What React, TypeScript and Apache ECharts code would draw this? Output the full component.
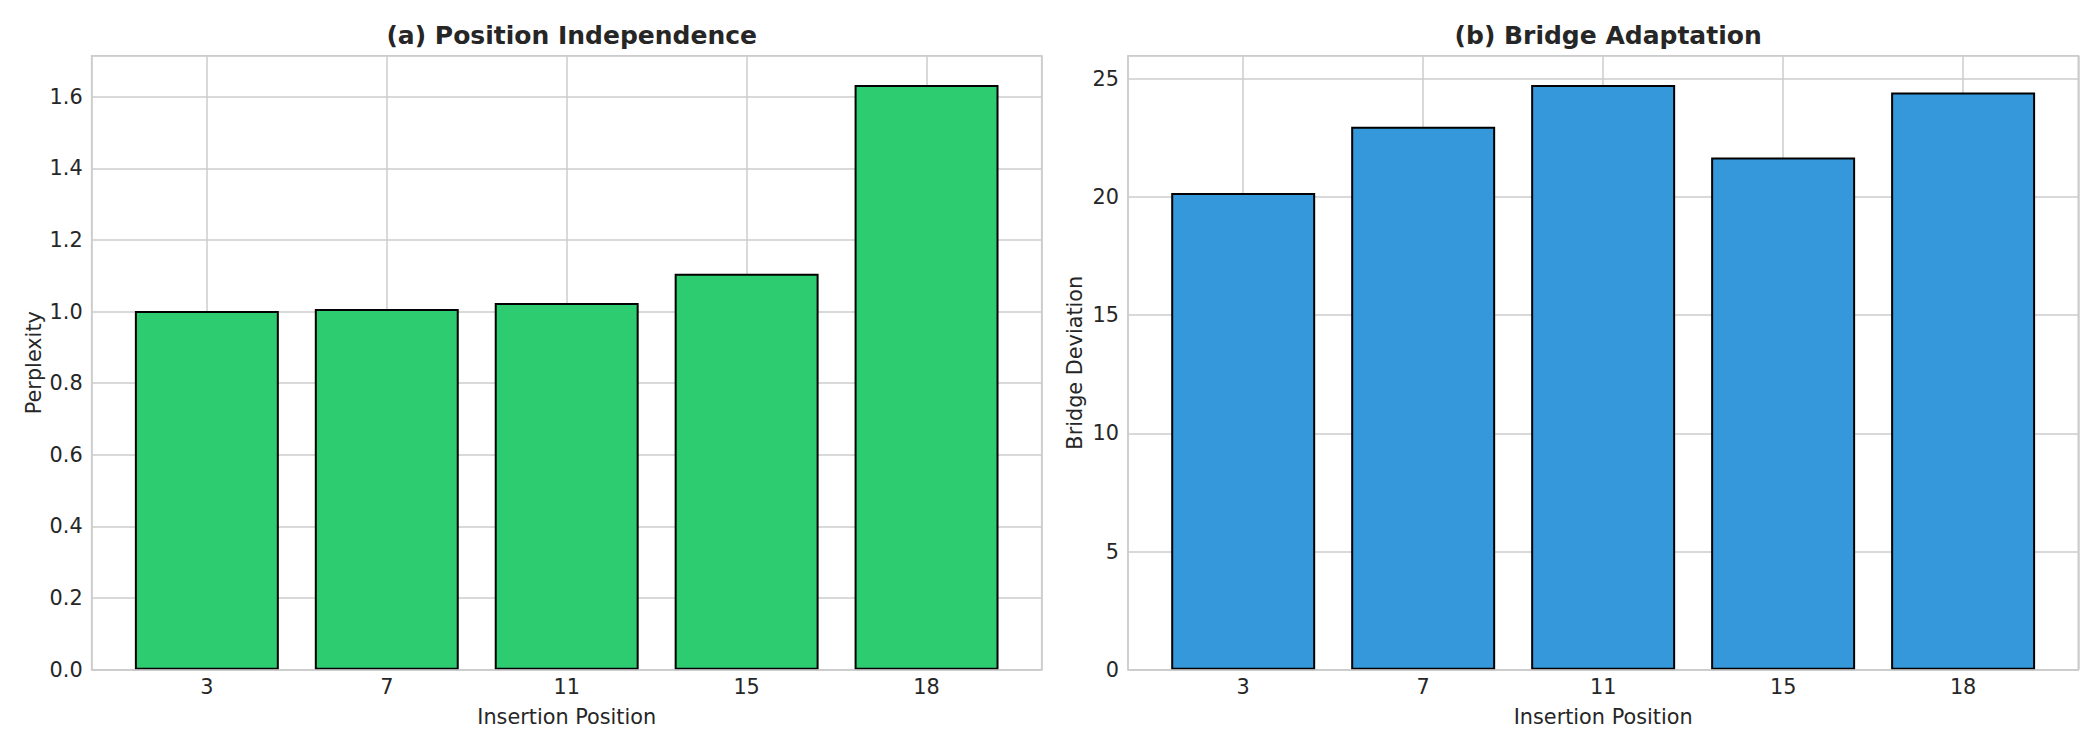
import React, { useEffect, useRef } from 'react';
import * as echarts from 'echarts';

const categories = ['3', '7', '11', '15', '18'];
const perplexity = [1.002, 1.007, 1.024, 1.106, 1.633];
const bridgeDeviation = [20.17, 22.97, 24.74, 21.67, 24.42];
const titles = ['(a) Position Independence', '(b) Bridge Adaptation'];
const yNames = ['Perplexity', 'Bridge Deviation'];
const xName = 'Insertion Position';
const yIntervals = [0.2, 5];
const yDecimals = [1, 0];
const barColors = ['#2ecc71', '#3498db'];

const FONT = 'DejaVu Sans';
const TEXT = '#262626';
const GRID = '#cccccc';

export default function App() {
  const ref = useRef<HTMLDivElement>(null);
  useEffect(() => {
    if (!ref.current) return;
    const chart = echarts.init(ref.current, null, { renderer: 'svg' });
    const n = categories.length;
    const span = n - 1 + 0.8;
    const xMin = -0.4 - 0.05 * span;
    const xMax = n - 1 + 0.4 + 0.05 * span;
    const seriesData = [perplexity, bridgeDeviation];
    const grids = [
      { left: 91.7, top: 55.7, width: 950, height: 614 },
      { left: 1128, top: 55.7, width: 950.3, height: 614 },
    ];
    const nameGaps = [47, 43];

    const xAxes: any[] = [];
    const yAxes: any[] = [];
    const series: any[] = [];
    grids.forEach((g, i) => {
      xAxes.push({
        type: 'value',
        gridIndex: i,
        min: xMin,
        max: xMax,
        splitNumber: 5,
        axisLine: { show: false },
        axisTick: { show: false },
        axisLabel: {
          formatter: (v: number) => {
            const r = Math.round(v);
            return Math.abs(v - r) < 1e-6 && r >= 0 && r < n ? categories[r] : '';
          },
          showMinLabel: false,
          showMaxLabel: false,
          margin: 7,
          fontSize: 20.8,
          color: TEXT,
          fontFamily: FONT,
        },
        splitLine: { show: true, lineStyle: { color: GRID, width: 1.5 } },
        name: xName,
        nameLocation: 'middle',
        nameGap: 37,
        nameTextStyle: { fontSize: 20.8, color: TEXT, fontFamily: FONT },
      });
      xAxes.push({
        type: 'value',
        gridIndex: i,
        min: xMin,
        max: xMax,
        position: 'bottom',
        z: 10,
        axisLine: { show: true, lineStyle: { color: GRID, width: 1.6 } },
        axisTick: { show: false },
        axisLabel: { show: false },
        splitLine: { show: false },
      });
      const vals = seriesData[i];
      const yMax = Math.max(...vals) * 1.05;
      yAxes.push({
        type: 'value',
        gridIndex: i,
        min: 0,
        max: yMax,
        interval: yIntervals[i],
        axisLine: { show: false },
        axisTick: { show: false },
        axisLabel: {
          formatter: (v: number) => v.toFixed(yDecimals[i]),
          showMaxLabel: false,
          margin: 9,
          fontSize: 20.8,
          color: TEXT,
          fontFamily: FONT,
        },
        splitLine: { show: true, lineStyle: { color: GRID, width: 1.5 } },
        name: yNames[i],
        nameLocation: 'middle',
        nameGap: nameGaps[i],
        nameRotate: 90,
        nameTextStyle: { fontSize: 20.8, color: TEXT, fontFamily: FONT },
      });
      series.push({
        type: 'bar',
        xAxisIndex: i * 2,
        yAxisIndex: i,
        barWidth: '80%',
        data: vals.map((v, k) => [k, v]),
        itemStyle: { color: barColors[i], borderColor: '#000000', borderWidth: 2 },
      });
    });

    chart.setOption({
      animation: false,
      backgroundColor: '#ffffff',
      title: grids.map((g, i) => ({
        text: titles[i],
        left: g.left + g.width / 2,
        top: 18,
        textAlign: 'center',
        textStyle: { fontSize: 25, fontWeight: 'bold', color: TEXT, fontFamily: FONT },
      })),
      grid: grids.map((g) => ({
        ...g,
        show: true,
        borderColor: GRID,
        borderWidth: 1.6,
        backgroundColor: 'transparent',
      })),
      xAxis: xAxes,
      yAxis: yAxes,
      series,
    });
    return () => chart.dispose();
  }, []);
  return (
    <div
      ref={ref}
      style={{ position: 'absolute', left: 0, top: 0, width: 2100, height: 750, background: '#fff' }}
    />
  );
}
